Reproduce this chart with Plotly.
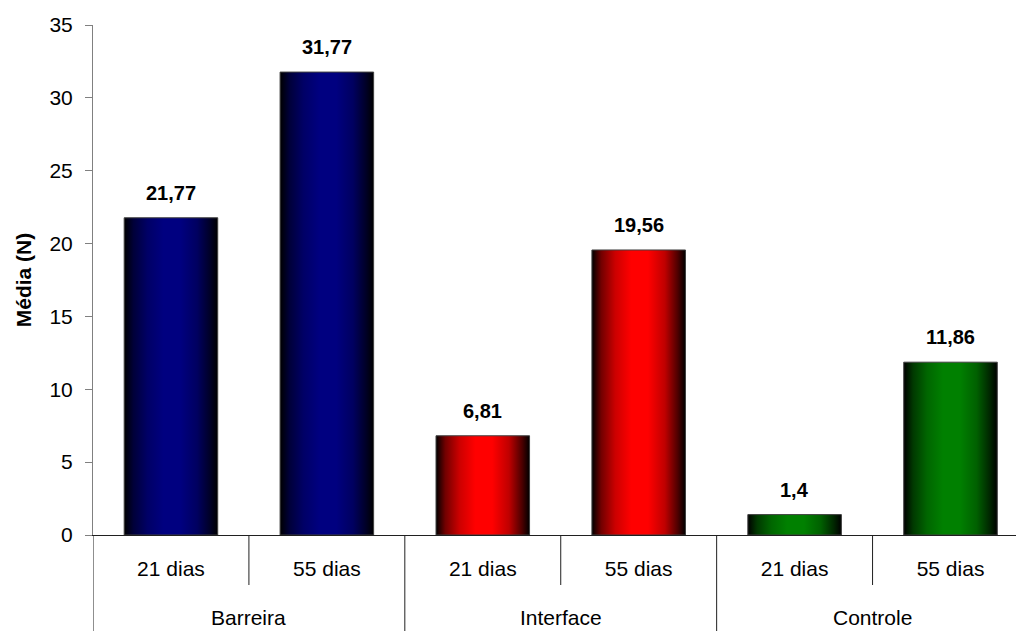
import plotly.graph_objects as go

# ---- data ----
groups = ["Barreira", "Interface", "Controle"]
periods = ["21 dias", "55 dias"]
values = [21.77, 31.77, 6.81, 19.56, 1.4, 11.86]
group_colors = ["#000080", "#FF0000", "#008000"]
y_ticks = [0, 5, 10, 15, 20, 25, 30, 35]
y_title = "Média (N)"

FONT = "Liberation Sans, Arial, sans-serif"
bar_width = 0.6
n_per = len(periods)


def shade(hex_color, f):
    h = hex_color.lstrip("#")
    r, g, b = (int(h[k:k + 2], 16) for k in (0, 2, 4))
    return "rgb({},{},{})".format(int(r * f), int(g * f), int(b * f))


def gradient(c):
    return [[0.0, shade(c, 0.0)], [0.1, shade(c, 0.45)], [0.25, shade(c, 0.8)],
            [0.42, shade(c, 1.0)], [0.6, shade(c, 1.0)], [0.78, shade(c, 0.75)],
            [0.92, shade(c, 0.3)], [1.0, shade(c, 0.0)]]


fig = go.Figure()
positions = list(range(len(values)))
for i, v in zip(positions, values):
    c = group_colors[i // n_per]
    x0, x1 = i - bar_width / 2, i + bar_width / 2
    fig.add_trace(go.Scatter(
        x=[x0, x1, x1, x0, x0], y=[0, 0, v, v, 0],
        fill="toself", mode="lines",
        line=dict(color="#404040", width=1),
        fillgradient=dict(type="horizontal", colorscale=gradient(c)),
        hoverinfo="skip", showlegend=False))
    fig.add_annotation(x=i, y=v, text=f"{v}".replace(".", ","), showarrow=False,
                       yanchor="bottom", yshift=12,
                       font=dict(family=FONT, size=20, color="black", weight="bold"))

# outer group labels
for g, name in enumerate(groups):
    center = sum(positions[g * n_per:(g + 1) * n_per]) / n_per
    fig.add_annotation(x=center, y=0, yref="paper", text=name, showarrow=False,
                       yanchor="middle", yshift=-82,
                       font=dict(family=FONT, size=21, color="black"))

# separators
for k in range(len(values)):
    b = k - 0.5
    long = (k % n_per == 0)
    fig.add_shape(type="line", xref="x", yref="paper", ysizemode="pixel", yanchor=0,
                  x0=b, x1=b, y0=0, y1=-96 if long else -50,
                  line=dict(color="#202020", width=1))

fig.update_layout(
    width=1016, height=631,
    margin=dict(l=93, r=0, t=25, b=96),
    plot_bgcolor="white", paper_bgcolor="white",
    font=dict(family=FONT, size=21, color="black"),
    xaxis=dict(range=[-0.5, 5.42], tickvals=positions,
               ticktext=[p for _ in groups for p in periods],
               ticks="outside", ticklen=15, tickcolor="rgba(0,0,0,0)",
               showline=True, linecolor="#202020", linewidth=1,
               showgrid=False, zeroline=False,
               tickfont=dict(family=FONT, size=21, color="black")),
    yaxis=dict(range=[0, 35], tickvals=y_ticks, ticks="outside", ticklen=7,
               tickcolor="#808080", showline=True, linecolor="#808080", linewidth=1,
               showgrid=False, zeroline=False, ticklabelstandoff=8,
               tickfont=dict(family=FONT, size=21, color="black"),
               title=dict(text=y_title, standoff=12,
                          font=dict(family=FONT, size=21, color="black", weight="bold"))),
)

fig.write_html("out.html")
